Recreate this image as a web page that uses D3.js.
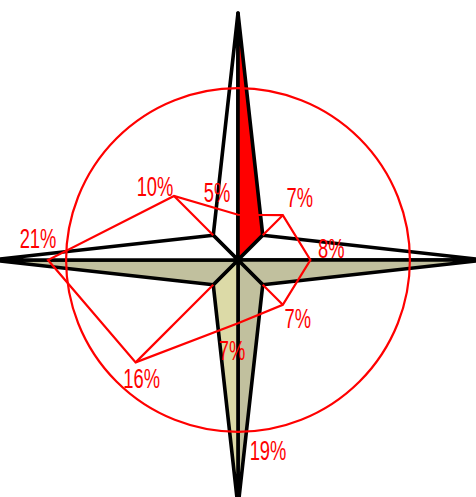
<!DOCTYPE html>
<html>
<head>
<meta charset="utf-8">
<script src="https://cdn.jsdelivr.net/npm/d3@7"></script>
<style>
  html, body { margin: 0; padding: 0; background: #fff; }
  svg { display: block; }
</style>
</head>
<body>
<svg id="chart" width="476" height="497"></svg>
<script>
// ---- data ----
const directions = ["N", "NE", "E", "SE", "S", "SW", "W", "NW"];
const values = [5, 7, 8, 7, 7, 16, 21, 10];
const valueLabels = ["5%", "7%", "8%", "7%", "7%", "16%", "21%", "10%"];
const ringValue = 19;
const ringLabel = "19%";

// ---- layout ----
const W = 476, H = 497;
const cx = 238, cy = 260;
const starOuter = 247, starInner = 35;
const r = d3.scaleLinear().domain([0, 21]).range([0, 190]);
const angle = d3.scalePoint().domain(directions).range([0, 315]); // degrees clockwise from north
const pt = (rad, deg) => {
  const a = deg * Math.PI / 180;
  return [cx + rad * Math.sin(a), cy - rad * Math.cos(a)];
};
// label offsets from each vertex (layout constants): [dx of centre, dy of baseline]
const labelOffsets = {
  N: [-21, -13], NE: [17, -8], E: [21, -2], SE: [15, 23],
  S: [-6, 37], SW: [6, 26], W: [-10, -12], NW: [-19, 0]
};

const RED = "#ff0000", DARK = "#c1c09e", LIGHT = "#dcdaa7";
const svg = d3.select("#chart");

// ---- star ----
const halves = [
  { a: 0, side: -45, fill: "#ffffff" }, { a: 0, side: 45, fill: RED },
  { a: 90, side: -45, fill: "#ffffff" }, { a: 90, side: 45, fill: DARK },
  { a: 180, side: -45, fill: DARK }, { a: 180, side: 45, fill: LIGHT },
  { a: 270, side: -45, fill: DARK }, { a: 270, side: 45, fill: "#ffffff" }
];
const line = d3.line();
svg.append("g").selectAll("path").data(halves).join("path")
  .attr("d", d => line([[cx, cy], pt(starOuter, d.a), pt(starInner, d.a + d.side)]) + "Z")
  .attr("fill", d => d.fill)
  .attr("stroke", "#000")
  .attr("stroke-width", 3.6)
  .attr("stroke-linejoin", "round");

// ---- radar polygon ----
const verts = directions.map((d, i) => pt(r(values[i]), angle(d)));
const g = svg.append("g").attr("fill", "none").attr("stroke", RED).attr("stroke-width", 2.2);
g.append("path").attr("d", line(verts) + "Z").attr("stroke-linejoin", "miter");
directions.forEach((d, i) => {
  if (angle(d) % 90 !== 0) {
    g.append("path").attr("d", line([pt(starInner, angle(d)), verts[i]]));
  }
});
g.append("circle").attr("cx", cx).attr("cy", cy).attr("r", r(ringValue));

// ---- labels ----
const tg = svg.append("g").attr("fill", RED)
  .attr("font-family", "'Liberation Sans', Arial, sans-serif").attr("font-size", 27);
function label(x, y, txt) {
  tg.append("text")
    .attr("transform", `translate(${x},${y}) scale(0.68,1)`)
    .attr("text-anchor", "middle").text(txt);
}
directions.forEach((d, i) => {
  const o = labelOffsets[d];
  label(verts[i][0] + o[0], verts[i][1] + o[1], valueLabels[i]);
});
const rb = pt(r(ringValue), 180);
label(rb[0] + 30, rb[1] + 28, ringLabel);
</script>
</body>
</html>
